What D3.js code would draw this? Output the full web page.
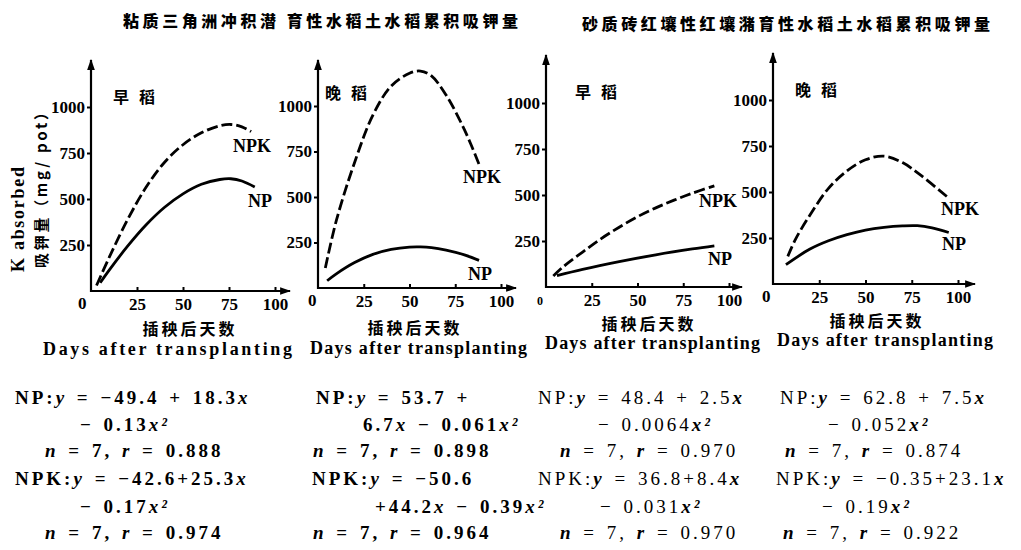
<!DOCTYPE html>
<html>
<head>
<meta charset="utf-8">
<script src="https://cdn.jsdelivr.net/npm/d3@7"></script>
<style>
  body { margin: 0; background: #fff; }
  svg { display: block; }
</style>
</head>
<body>
<script>
// values: [days after transplanting, K absorbed mg/pot]
const clayEarlyNPK = [[3, 30], [10, 185], [20, 390], [30, 565], [40, 700], [50, 795], [60, 860], [70, 898], [76, 905], [82, 892], [87, 866]];
const clayEarlyNP = [[5, 45], [10, 115], [20, 245], [30, 360], [40, 455], [50, 528], [60, 580], [70, 606], [76, 610], [82, 598], [89, 565]];
const clayLateNPK = [[4, 110], [10, 370], [20, 690], [30, 950], [40, 1110], [50, 1180], [56, 1192], [62, 1165], [70, 1060], [80, 870], [88, 680]];
const clayLateNP = [[5, 40], [10, 78], [20, 140], [30, 185], [40, 212], [50, 225], [56, 226], [62, 222], [70, 208], [80, 182], [88, 152]];
const sandEarlyNPK = [[4, 60], [10, 115], [20, 190], [30, 262], [40, 325], [50, 382], [60, 430], [70, 472], [80, 510], [92, 550]];
const sandEarlyNP = [[6, 62], [20, 96], [40, 138], [60, 175], [80, 207], [92, 224]];
const sandLateNPK = [[8, 150], [12, 240], [20, 375], [30, 520], [40, 615], [50, 675], [60, 695], [70, 660], [80, 590], [94, 475]];
const sandLateNP = [[7, 105], [20, 190], [30, 235], [40, 268], [50, 293], [60, 308], [70, 316], [78, 317], [86, 305], [95, 280]];

const xTicks = [25, 50, 75, 100];
const yTicks = [250, 500, 750, 1000];

const titles = ['粘质三角洲冲积潜 育性水稻土水稻累积吸钾量', '砂质砖红壤性红壤潴育性水稻土水稻累积吸钾量'];
const cropNames = ['早稻', '晚稻', '早稻', '晚稻'];

// fitted equations printed under the panels (*...* = italic)
const eqClayEarly = ['NP:*y* = −49.4 + 18.3*x*', '− 0.13*x²*', '*n* = 7, *r* = 0.888', 'NPK:*y* = −42.6+25.3*x*', '− 0.17*x²*', '*n* = 7, *r* = 0.974'];
const eqClayLate = ['NP:*y* = 53.7 +', '6.7*x* − 0.061*x²*', '*n* = 7, *r* = 0.898', 'NPK:*y* = −50.6', '+44.2*x* − 0.39*x²*', '*n* = 7, *r* = 0.964'];
const eqSandEarly = ['NP:*y* = 48.4 + 2.5*x*', '− 0.0064*x²*', '*n* = 7, *r* = 0.970', 'NPK:*y* = 36.8+8.4*x*', '− 0.031*x²*', '*n* = 7, *r* = 0.970'];
const eqSandLate = ['NP:*y* = 62.8 + 7.5*x*', '− 0.052*x²*', '*n* = 7, *r* = 0.874', 'NPK:*y* = −0.35+23.1*x*', '− 0.19*x²*', '*n* = 7, *r* = 0.922'];

const SERIF = '"Liberation Serif", "DejaVu Serif", serif';
const CJK = '"Noto Sans CJK SC", sans-serif';

const svg = d3.select('body').append('svg')
    .attr('width', 1021)
    .attr('height', 550);

svg.append('defs').append('marker')
    .attr('id', 'arrow')
    .attr('viewBox', '0 0 10 10')
    .attr('refX', 9).attr('refY', 5)
    .attr('markerWidth', 5).attr('markerHeight', 5)
    .attr('markerUnits', 'strokeWidth')
    .attr('orient', 'auto')
    .append('path')
    .attr('d', 'M0,1.5 L10,5 L0,8.5 Z')
    .attr('fill', '#000');

// titles
svg.append('text').text(titles[0])
    .attr('x', 123).attr('y', 27)
    .attr('textLength', 395).attr('lengthAdjust', 'spacing')
    .style('font-family', CJK).style('font-weight', 900).style('font-size', '16px');
svg.append('text').text(titles[1])
    .attr('x', 582).attr('y', 30)
    .attr('textLength', 408).attr('lengthAdjust', 'spacing')
    .style('font-family', CJK).style('font-weight', 900).style('font-size', '16px');

// y axis title
svg.append('text').text('K absorbed')
    .attr('transform', 'translate(24,272) rotate(-90)')
    .attr('textLength', 105).attr('lengthAdjust', 'spacing')
    .style('font-family', SERIF).style('font-weight', 700).style('font-size', '18px');
svg.append('text').text('吸钾量（mg/ pot）')
    .attr('transform', 'translate(47,268) rotate(-90)')
    .attr('textLength', 163).attr('lengthAdjust', 'spacing')
    .style('font-family', CJK).style('font-weight', 700).style('font-size', '15px');

const panels = [
    { x0: 91, x100: 275, y0: 291, y1000: 107, top: 60, right: 290, nameX: 113, nameY: 103, npk: clayEarlyNPK, np: clayEarlyNP, npkLab: [233, 152], npLab: [248, 207], zeroX: 78, zeroSize: 17, cnX: 190, cnY: 335, enX0: 43, enX1: 292, enY: 355 },
    { x0: 318, x100: 501, y0: 288, y1000: 106, top: 60, right: 516, nameX: 325, nameY: 99, npk: clayLateNPK, np: clayLateNP, npkLab: [463, 183], npLab: [468, 280], zeroX: 308, zeroSize: 17, cnX: 415, cnY: 334, enX0: 310, enX1: 527, enY: 354 },
    { x0: 546, x100: 729, y0: 287, y1000: 103, top: 55, right: 742, nameX: 575, nameY: 98, npk: sandEarlyNPK, np: sandEarlyNP, npkLab: [699, 207], npLab: [708, 265], zeroX: 537, zeroSize: 12, cnX: 649, cnY: 330, enX0: 545, enX1: 760, enY: 349 },
    { x0: 773, x100: 958, y0: 284, y1000: 100, top: 53, right: 975, nameX: 795, nameY: 96, npk: sandLateNPK, np: sandLateNP, npkLab: [941, 215], npLab: [942, 250], zeroX: 762, zeroSize: 17, cnX: 877, cnY: 327, enX0: 777, enX1: 993, enY: 346 }
];

panels.forEach((p, i) => {
    const x = d3.scaleLinear().domain([0, 100]).range([p.x0, p.x100]);
    const y = d3.scaleLinear().domain([0, 1000]).range([p.y0, p.y1000]);
    const g = svg.append('g');

    // axes with arrows
    g.append('line')
        .attr('x1', p.x0).attr('y1', p.y0 + 1).attr('x2', p.x0).attr('y2', p.top)
        .attr('stroke', '#000').attr('stroke-width', 2.2)
        .attr('marker-end', 'url(#arrow)');
    g.append('line')
        .attr('x1', p.x0 - 1).attr('y1', p.y0).attr('x2', p.right).attr('y2', p.y0)
        .attr('stroke', '#000').attr('stroke-width', 2.2)
        .attr('marker-end', 'url(#arrow)');

    const yAxis = g.append('g')
        .attr('transform', `translate(${p.x0},0)`)
        .call(d3.axisLeft(y).tickValues(yTicks).tickSize(4).tickPadding(2).tickFormat(d3.format('d')));
    const xAxis = g.append('g')
        .attr('transform', `translate(0,${p.y0})`)
        .call(d3.axisBottom(x).tickValues(xTicks).tickSize(-4).tickPadding(7).tickFormat(d3.format('d')));
    [yAxis, xAxis].forEach(a => {
        a.attr('font-family', null);
        a.select('.domain').remove();
        a.selectAll('line').attr('stroke', '#000').attr('stroke-width', 2);
        a.selectAll('text')
            .attr('fill', '#000')
            .style('font-family', SERIF).style('font-weight', 700).style('font-size', '17px');
    });

    g.append('text').text('0')
        .attr('x', p.zeroX).attr('y', p.y0 + 18)
        .style('font-family', SERIF).style('font-weight', 700).style('font-size', p.zeroSize + 'px');

    // curves
    const line = d3.line()
        .x(d => x(d[0]))
        .y(d => y(d[1]))
        .curve(d3.curveCatmullRom.alpha(0.5));
    g.append('path')
        .attr('d', line(p.npk))
        .attr('fill', 'none').attr('stroke', '#000')
        .attr('stroke-width', 2.8)
        .attr('stroke-dasharray', '11,4');
    g.append('path')
        .attr('d', line(p.np))
        .attr('fill', 'none').attr('stroke', '#000')
        .attr('stroke-width', 2.8);

    g.append('text').text('NPK')
        .attr('x', p.npkLab[0]).attr('y', p.npkLab[1])
        .style('font-family', SERIF).style('font-weight', 700).style('font-size', '18px');
    g.append('text').text('NP')
        .attr('x', p.npLab[0]).attr('y', p.npLab[1])
        .style('font-family', SERIF).style('font-weight', 700).style('font-size', '18px');

    g.append('text').text(cropNames[i])
        .attr('x', p.nameX).attr('y', p.nameY)
        .attr('textLength', 42).attr('lengthAdjust', 'spacing')
        .style('font-family', CJK).style('font-weight', 700).style('font-size', '16px');

    // x axis titles
    g.append('text').text('插秧后天数')
        .attr('x', p.cnX).attr('y', p.cnY)
        .attr('text-anchor', 'middle')
        .style('font-family', CJK).style('font-weight', 700).style('font-size', '16px')
        .style('letter-spacing', '3px');
    g.append('text').text('Days after transplanting')
        .attr('x', p.enX0).attr('y', p.enY)
        .attr('textLength', p.enX1 - p.enX0).attr('lengthAdjust', 'spacing')
        .style('font-family', SERIF).style('font-weight', 700).style('font-size', '18px');
});

// equations
const eqCols = [
    { lines: eqClayEarly, xs: [15, 80, 45, 15, 80, 45], weight: 700 },
    { lines: eqClayLate, xs: [316, 363, 313, 312, 375, 313], weight: 700 },
    { lines: eqSandEarly, xs: [538, 598, 560, 538, 600, 560], weight: 400 },
    { lines: eqSandLate, xs: [780, 828, 785, 776, 822, 783], weight: 400 }
];
const eqBaselines = [404, 431, 457, 485, 513, 539];

eqCols.forEach(col => {
    col.lines.forEach((str, j) => {
        const t = svg.append('text')
            .attr('x', col.xs[j]).attr('y', eqBaselines[j])
            .style('font-family', SERIF).style('font-size', '19px')
            .style('letter-spacing', '3px')
            .style('word-spacing', '2px')
            .attr('xml:space', 'preserve');
        str.split('*').forEach((part, k) => {
            if (!part) return;
            t.append('tspan').text(part)
                .style('font-style', k % 2 ? 'italic' : 'normal')
                .style('font-weight', k % 2 ? 700 : col.weight);
        });
    });
});
</script>
</body>
</html>
